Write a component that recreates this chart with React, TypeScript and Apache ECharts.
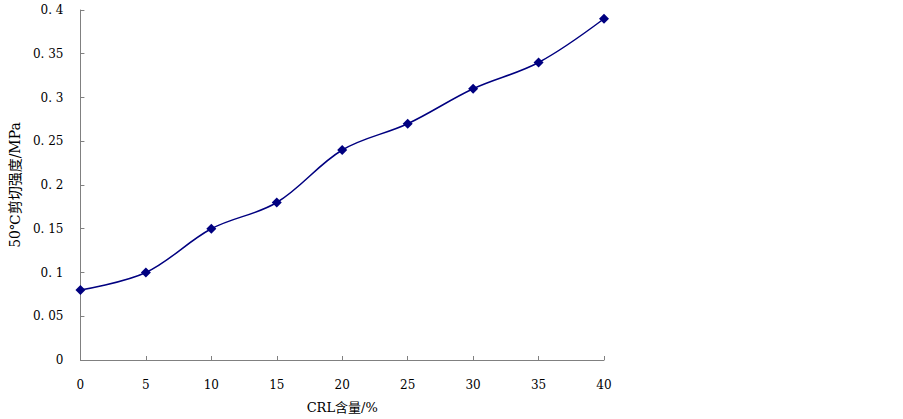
import React, { useEffect, useRef } from "react";
import * as echarts from "echarts";

const xValues = [0, 5, 10, 15, 20, 25, 30, 35, 40];
const shearStrength = [0.08, 0.1, 0.15, 0.18, 0.24, 0.27, 0.31, 0.34, 0.39];
const xTitle = "CRL含量/%";
const yTitle = "50℃剪切强度/MPa";

const FONT = "'DejaVu Serif', 'Noto Sans CJK SC', serif";

const fmtY = (v: number) => {
  const s = String(Math.round(v * 100) / 100);
  return s.replace(".", ". ");
};

export default function App() {
  const ref = useRef<HTMLDivElement>(null);
  useEffect(() => {
    if (!ref.current) return;
    const chart = echarts.init(ref.current, null, { renderer: "svg" });
    chart.setOption({
      animation: false,
      backgroundColor: "#fff",
      grid: { left: 77, right: 299, top: 10, bottom: 57, containLabel: false },
      xAxis: {
        type: "value",
        min: 0,
        max: 40,
        interval: 5,
        name: xTitle,
        nameLocation: "middle",
        nameGap: 41,
        nameTextStyle: { fontFamily: FONT, fontSize: 13, color: "#000" },
        axisLine: { lineStyle: { color: "#808080", width: 1 } },
        axisTick: { inside: true, length: 4, lineStyle: { color: "#808080" } },
        axisLabel: { fontFamily: FONT, fontSize: 12, color: "#000", margin: 19 },
        splitLine: { show: false },
      },
      yAxis: {
        type: "value",
        min: 0,
        max: 0.4,
        interval: 0.05,
        name: yTitle,
        nameLocation: "middle",
        nameGap: 56,
        nameTextStyle: { fontFamily: FONT, fontSize: 14, color: "#000" },
        axisLine: { show: true, lineStyle: { color: "#808080", width: 1 } },
        axisTick: { show: true, inside: true, length: 4, lineStyle: { color: "#808080" } },
        axisLabel: { fontFamily: FONT, fontSize: 12, color: "#000", margin: 17, formatter: fmtY },
        splitLine: { show: false },
      },
      series: [
        {
          type: "line",
          data: xValues.map((x, i) => [x, shearStrength[i]]),
          smooth: 0.35,
          symbol: "diamond",
          symbolSize: 10,
          lineStyle: { color: "#000080", width: 1.5 },
          itemStyle: { color: "#000080" },
        },
      ],
    });
    return () => chart.dispose();
  }, []);
  return (
    <div
      ref={ref}
      style={{ position: "fixed", left: 0, top: 0, width: 903, height: 419 }}
    />
  );
}
